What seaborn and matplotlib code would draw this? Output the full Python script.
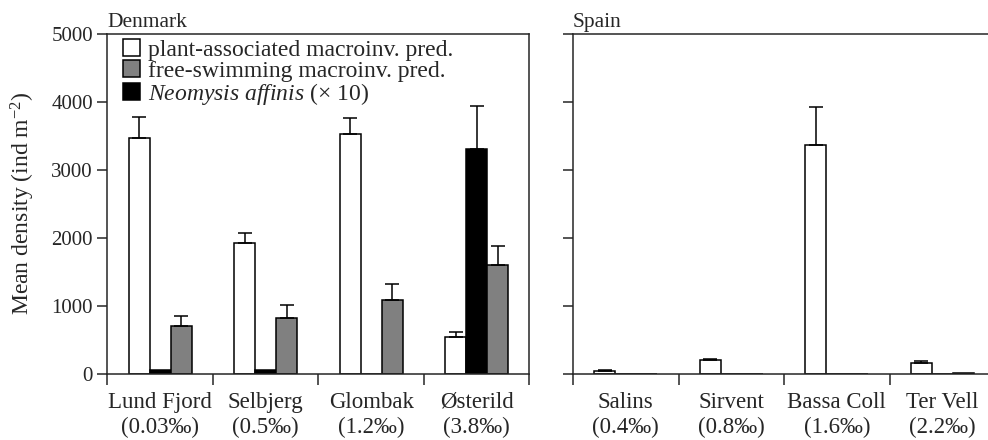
import numpy as np
import pandas as pd
import matplotlib
matplotlib.use("Agg")
import matplotlib.pyplot as plt
import seaborn as sns

# ---- data -------------------------------------------------------------
dk_sites = ["Lund Fjord\n(0.03‰)", "Selbjerg\n(0.5‰)", "Glombak\n(1.2‰)", "Østerild\n(3.8‰)"]
es_sites = ["Salins\n(0.4‰)", "Sirvent\n(0.8‰)", "Bassa Coll\n(1.6‰)", "Ter Vell\n(2.2‰)"]

groups = ["plant-associated macroinv. pred.",
          "free-swimming macroinv. pred.",
          r"$\mathit{Neomysis\ affinis}$ (× 10)"]

# mean densities (ind m-2); Neomysis already multiplied by 10
dk_plant = [3465, 1920, 3530, 540]
dk_plant_se = [310, 150, 240, 75]
dk_neo = [45, 45, 0, 3305]
dk_neo_se = [0, 0, 0, 640]
dk_free = [695, 820, 1090, 1595]
dk_free_se = [150, 195, 230, 280]

es_plant = [30, 195, 3360, 148]
es_plant_se = [18, 15, 570, 30]
es_neo = [0, 0, 0, 0]
es_neo_se = [0, 0, 0, 0]
es_free = [0, 0, 0, 12]
es_free_se = [0, 0, 0, 0]

colors = ["white", "#808080", "black"]
plot_order = [groups[0], groups[2], groups[1]]  # white, black, grey side by side


def long_table(sites, plant, neo, free):
    rows = []
    for s, p, n, f in zip(sites, plant, neo, free):
        rows.append((s, groups[0], p))
        rows.append((s, groups[2], n))
        rows.append((s, groups[1], f))
    return pd.DataFrame(rows, columns=["site", "group", "density"])


sns.set_style("ticks")
plt.rcParams["font.family"] = ["Liberation Serif", "DejaVu Serif"]
plt.rcParams["mathtext.fontset"] = "custom"
plt.rcParams["mathtext.rm"] = "Liberation Serif"
plt.rcParams["mathtext.it"] = "Liberation Serif:italic"
plt.rcParams["axes.linewidth"] = 1.1

fig = plt.figure(figsize=(9.88, 4.40), dpi=100)
ax_dk = fig.add_axes([0.1088, 0.1511, 0.4271, 0.7716])
ax_es = fig.add_axes([0.5800, 0.1511, 0.4271, 0.7716])

palette = {groups[0]: colors[0], groups[1]: colors[1], groups[2]: colors[2]}

panels = [
    (ax_dk, dk_sites, dk_plant, dk_neo, dk_free, dk_plant_se, dk_neo_se, dk_free_se, "Denmark"),
    (ax_es, es_sites, es_plant, es_neo, es_free, es_plant_se, es_neo_se, es_free_se, "Spain"),
]

for ax, sites, plant, neo, free, plant_se, neo_se, free_se, title in panels:
    df = long_table(sites, plant, neo, free)
    sns.barplot(data=df, x="site", y="density", hue="group", hue_order=plot_order,
                order=sites, palette=palette, edgecolor="black", linewidth=1.1,
                width=0.6, errorbar=None, ax=ax, legend=False, saturation=1)

    # upward-only standard errors on top of each bar
    errs = {groups[0]: plant_se, groups[2]: neo_se, groups[1]: free_se}
    for cont, g in zip(ax.containers, plot_order):
        se = errs[g]
        for bar, e in zip(cont.patches, se):
            if e > 0:
                xc = bar.get_x() + bar.get_width() / 2
                h = bar.get_height()
                ax.errorbar([xc], [h], yerr=[[0], [e]], fmt="none",
                            ecolor="black", elinewidth=1.1, capsize=5, capthick=1.1)

    ax.set_xlim(-0.5, 3.5)
    ax.set_ylim(0, 5000)
    ax.set_yticks([0, 1000, 2000, 3000, 4000, 5000])
    # group separators as major ticks, site names centred as minor ticks
    ax.set_xticks([-0.5, 0.5, 1.5, 2.5, 3.5])
    ax.set_xticklabels([])
    ax.set_xticks(range(len(sites)), sites, minor=True)
    for lab in ax.get_xticklabels(minor=True):
        lab.set_linespacing(1.28)
    ax.tick_params(axis="x", which="major", length=8, width=1.1, direction="out")
    ax.tick_params(axis="x", which="minor", length=0, pad=13, labelsize=16.5)
    ax.tick_params(axis="y", length=7, width=1.1, direction="out", labelsize=15, pad=3.5)
    ax.set_xlabel("")
    ax.set_ylabel("")
    for sp in ax.spines.values():
        sp.set_visible(True)
        sp.set_linewidth(1.1)
    ax.set_title(title, loc="left", fontsize=15.5, pad=5)

ax_es.set_yticklabels([])
ax_dk.set_ylabel(r"Mean density (ind m$^{-2}$)", fontsize=17, labelpad=10)

# legend built from the Danish panel's bar containers
handles = [ax_dk.containers[0].patches[0], ax_dk.containers[2].patches[0], ax_dk.containers[1].patches[0]]
ax_dk.legend(handles, [groups[0], groups[1], groups[2]], loc="upper left",
             bbox_to_anchor=(0.037, 0.985), frameon=False, fontsize=17,
             handlelength=0.72, handleheight=0.72, handletextpad=0.34,
             labelspacing=-0.03, borderpad=0, borderaxespad=0)

fig.savefig("out.png", dpi=100)
